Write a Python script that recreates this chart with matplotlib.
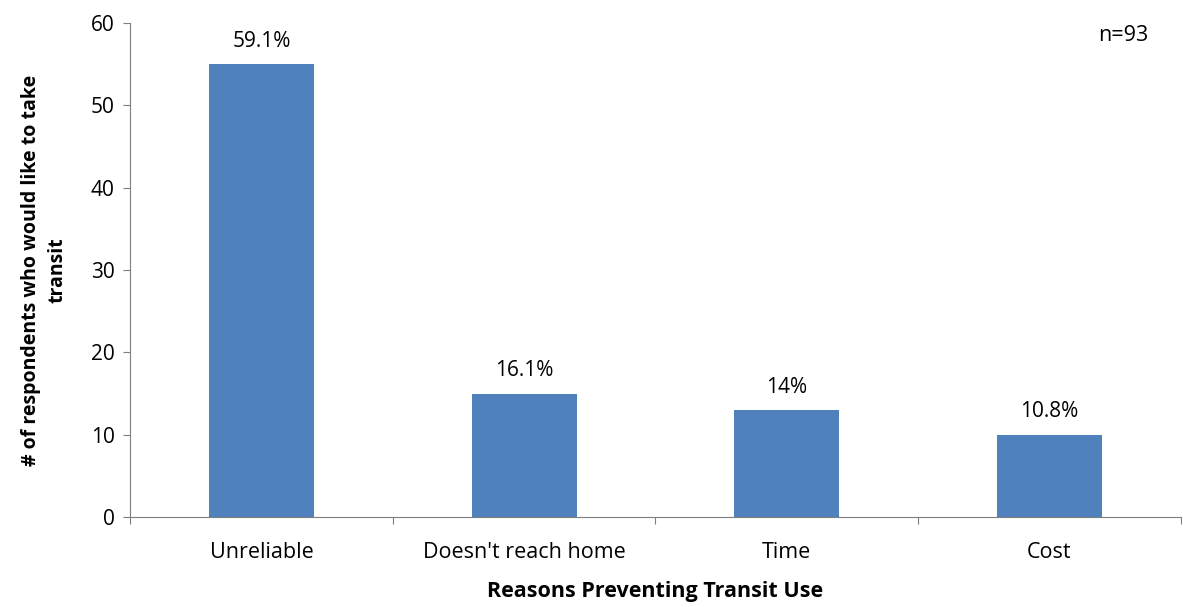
import matplotlib
matplotlib.use("Agg")
import matplotlib.pyplot as plt
import numpy as np

# data
categories = ["Unreliable", "Doesn't reach home", "Time", "Cost"]
counts = [55, 15, 13, 10]
pct_labels = ["59.1%", "16.1%", "14%", "10.8%"]
y_ticks = [0, 10, 20, 30, 40, 50, 60]

plt.rcParams["font.family"] = ["Open Sans", "DejaVu Sans"]

fig = plt.figure(figsize=(11.83, 6.07), dpi=100)
ax = fig.add_axes([0.110, 0.148, 0.888, 0.814])

x = np.arange(len(categories))
ax.bar(x, counts, width=0.4, color="#4F81BD")

# percentage labels above each bar
for xi, c, lbl in zip(x, counts, pct_labels):
    ax.text(xi, c + 1.5, lbl, ha="center", va="bottom", fontsize=15, color="black")

ax.set_xlim(-0.5, len(categories) - 0.5)
ax.set_ylim(0, 60)
ax.set_yticks(y_ticks)
ax.tick_params(axis="y", labelsize=15, length=5, pad=6, direction="out",
               colors="#7f7f7f", labelcolor="black")

# x ticks sit on category boundaries, labels centred under bars
ax.set_xticks(np.arange(-0.5, len(categories), 1.0))
ax.set_xticklabels([])
ax.set_xticks(x, minor=True)
ax.set_xticklabels(categories, minor=True, fontsize=15.5)
ax.tick_params(axis="x", which="major", length=5, direction="out", colors="#7f7f7f")
ax.tick_params(axis="x", which="minor", length=0, pad=18, labelcolor="black")

for side in ["top", "right"]:
    ax.spines[side].set_visible(False)
for side in ["left", "bottom"]:
    ax.spines[side].set_color("#7f7f7f")

ax.set_xlabel("Reasons Preventing Transit Use", fontsize=15.5, fontweight="bold", labelpad=13)
ax.set_ylabel("# of respondents who would like to take\ntransit", fontsize=14,
              fontweight="bold", labelpad=17, linespacing=1.4)

ax.text(0.945, 0.975, "n=93", transform=ax.transAxes, ha="center", va="center", fontsize=15.5)

plt.savefig("out.png", dpi=100)
